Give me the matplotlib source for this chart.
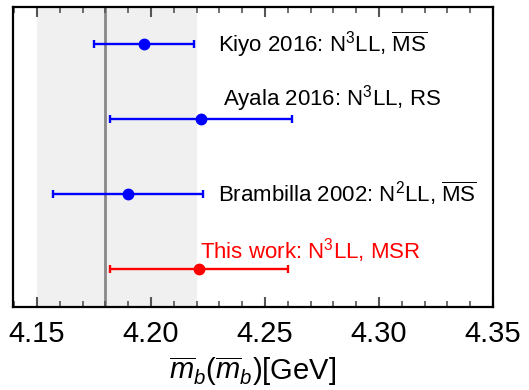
import matplotlib
matplotlib.use("Agg")
import matplotlib.pyplot as plt
from matplotlib.ticker import MultipleLocator

plt.rcParams["font.family"] = ["Liberation Sans", "DejaVu Sans"]
plt.rcParams["mathtext.fontset"] = "custom"
plt.rcParams["mathtext.rm"] = "Liberation Sans"
plt.rcParams["mathtext.it"] = "Liberation Sans:italic"
plt.rcParams["mathtext.bf"] = "Liberation Sans:bold"

# bottom-quark MSbar mass determinations (GeV)
labels = [
    r"This work: N$^3$LL, MSR",
    r"Brambilla 2002: N$^2$LL, $\overline{\mathrm{MS}}$",
    r"Ayala 2016: N$^3$LL, RS",
    r"Kiyo 2016: N$^3$LL, $\overline{\mathrm{MS}}$",
]
rows = [1, 2, 3, 4]
central = [4.221, 4.190, 4.222, 4.197]
err_lo = [0.039, 0.033, 0.040, 0.022]
err_hi = [0.039, 0.033, 0.040, 0.022]
colors = ["red", "blue", "blue", "blue"]
text_colors = ["red", "black", "black", "black"]

# PDG average and its band
pdg_central = 4.18
pdg_band = (4.15, 4.22)

# label anchor (x, y) in data coordinates
label_pos = [(4.2217, 1.25), (4.2296, 2.01), (4.2318, 3.27), (4.2292, 4.0)]

fig = plt.figure(figsize=(5.29, 3.90), dpi=100)
ax = fig.add_axes([0.0246, 0.2128, 0.9074, 0.7692])

ax.axvspan(*pdg_band, color="#f0f0f0", lw=0, zorder=0)
ax.axvline(pdg_central, color="#888888", lw=2.0, zorder=1)

for y, c, lo, hi, col in zip(rows, central, err_lo, err_hi, colors):
    ax.errorbar(c, y, xerr=[[lo], [hi]], fmt="o", color=col, ms=7.5,
                lw=1.7, capsize=3, capthick=1.7, zorder=3)

for (tx, ty), text, col in zip(label_pos, labels, text_colors):
    ax.text(tx, ty, text, color=col, fontsize=16, ha="left", va="center")

ax.set_xlim(4.1395, 4.35)
ax.set_ylim(0.493, 4.493)
ax.set_yticks([])
ax.xaxis.set_major_locator(MultipleLocator(0.05))
ax.xaxis.set_minor_locator(MultipleLocator(0.01))
ax.xaxis.set_major_formatter(matplotlib.ticker.FormatStrFormatter("%.2f"))
ax.tick_params(axis="x", which="both", direction="in", top=True,
               color="#555555", labelsize=21, pad=9)
ax.tick_params(axis="x", which="major", length=7, width=1.5)
ax.tick_params(axis="x", which="minor", length=4, width=1.2)
for s in ax.spines.values():
    s.set_linewidth(1.6)

ax.set_xlabel(r"$\overline{m}_b(\overline{m}_b)$[GeV]", fontsize=21, labelpad=5)

fig.savefig("out.png", dpi=100)
